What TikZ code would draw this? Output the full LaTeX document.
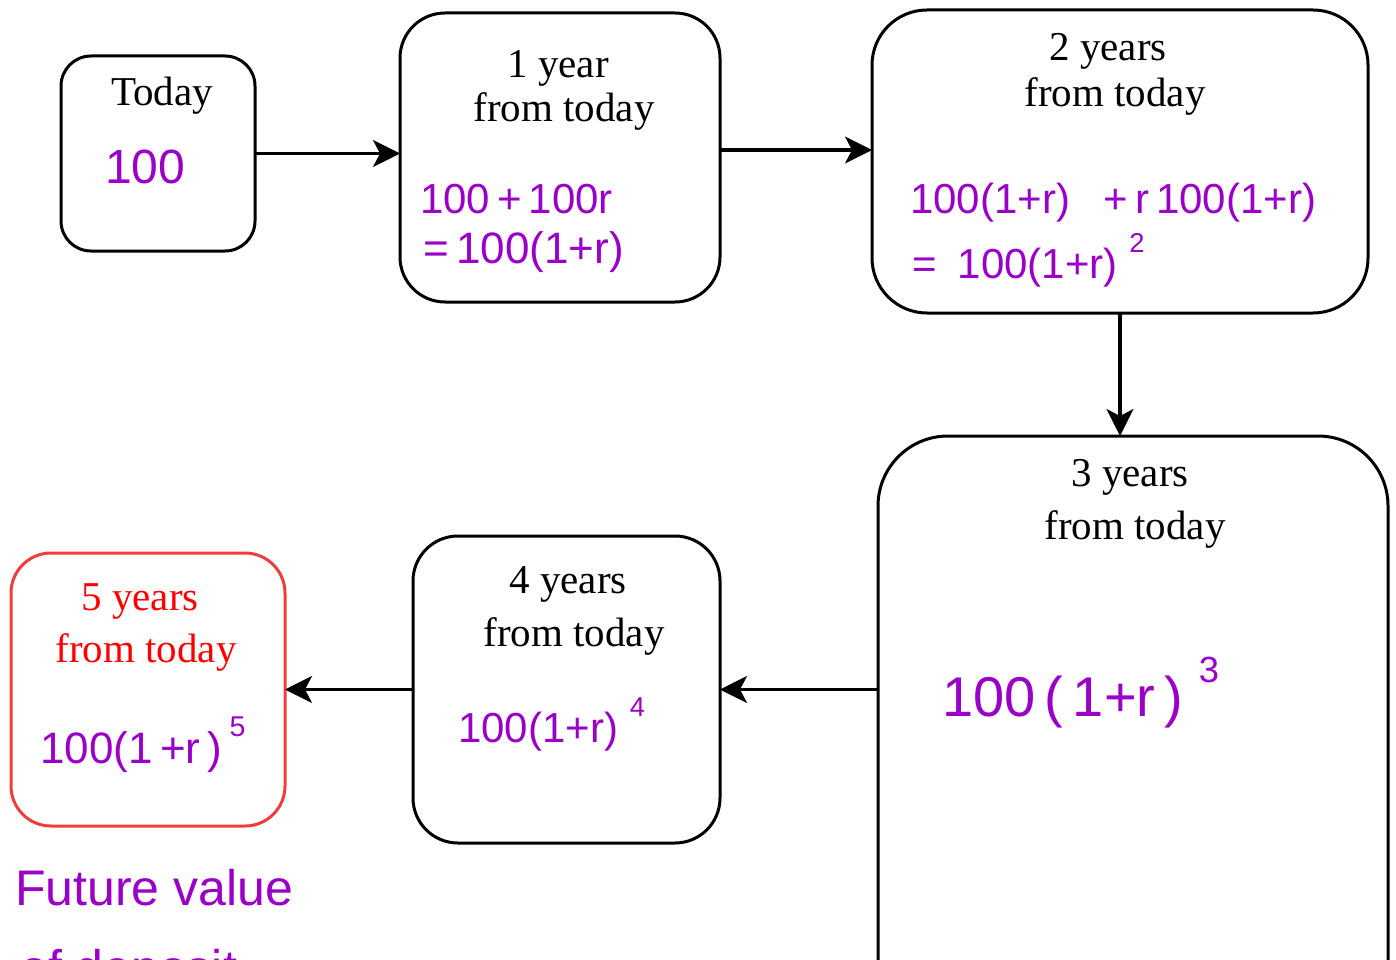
\documentclass[tikz,border=0pt]{standalone}
\usepackage{fontspec}
\setmainfont{Liberation Serif}
\newfontfamily\hand{Liberation Sans}
\usetikzlibrary{arrows.meta}
\definecolor{ink}{RGB}{155,0,200}
\definecolor{redline}{RGB}{240,60,60}
\definecolor{redtext}{RGB}{255,0,0}
\newcommand\ex[1]{\raisebox{0.6em}{\scalebox{0.65}{#1}}}
\tikzset{
  box/.style={draw=black, line width=3pt, rounded corners=#1, inner sep=0pt, outer sep=0pt},
  lbl/.style={anchor=base, inner sep=0pt, font=\fontsize{41}{46}\selectfont},
  hw/.style={anchor=base west, text=ink, inner sep=0pt, font=\hand\fontsize{#1}{#1}\selectfont},
  arr/.style={line width=3.2pt, -{Stealth[length=27pt,width=27pt,inset=7pt]}},
}
\begin{document}
\begin{tikzpicture}[x=1pt,y=-1pt]
\useasboundingbox (0,0) rectangle (1396,960);
\fill[white] (0,0) rectangle (1396,960);
\clip (0,0) rectangle (1396,960);

% boxes
\node[box=30pt, minimum width=194pt, minimum height=195pt] (today) at (158,153.5) {};
\node[box=45pt, minimum width=320pt, minimum height=289pt] (y1) at (560,157.5) {};
\node[box=55pt, minimum width=496pt, minimum height=303pt] (y2) at (1120,161.5) {};
\node[box=70pt, minimum width=510pt, minimum height=594pt] (y3) at (1133,733) {};
\node[box=45pt, minimum width=307pt, minimum height=307pt] (y4) at (566.5,689.5) {};
\node[box=40pt, draw=redline, minimum width=274pt, minimum height=273pt] (y5) at (148,689.5) {};

% printed labels
\node[lbl] (l0) at (162,106) {Today};
\node[lbl] (l1a) at (558,78) {1 year};
\node[lbl] (l1b) at (564,122) {from today};
\node[lbl] (l2a) at (1108,61) {2 years};
\node[lbl] (l2b) at (1115,107) {from today};
\node[lbl] (l3a) at (1130,486) {3 years};
\node[lbl] (l3b) at (1135,539) {from today};
\node[lbl] (l4a) at (568,593) {4 years};
\node[lbl] (l4b) at (574,646) {from today};
\node[lbl, text=redtext] (l5a) at (140,610) {5 years};
\node[lbl, text=redtext] (l5b) at (146,662) {from today};

% handwritten
\node[hw=48] (t0) at (105,183) {100};
\node[hw=42] (t1a) at (420,213) {100\,+\,100r};
\node[hw=44] (t1b) at (423,263) {=\,100(1+r)};
\node[hw=42] (t2a) at (910,213) {100(1+r)\hspace{0.8em}+\,r\,100(1+r)};
\node[hw=42] (t2b) at (912,278) {=\enspace 100(1+r)\;\ex{2}};
\node[hw=56] (t3) at (942,716) {100\,(\,1+r\,)\;\ex{3}};
\node[hw=42] (t4) at (458,742) {100(1+r)\;\ex{4}};
\node[hw=44] (t5) at (40,763) {100(1\,+r\,)\,\ex{5}};
\node[hw=50] (fv) at (15,905) {Future value};
\node[hw=50] (fv2) at (20,985) {of deposit};

% connectors
\draw[arr] (today.east) -- (today.east -| y1.west);
\draw[arr] ([yshift=7.5pt]y1.east) -- ([yshift=7.5pt]y1.east -| y2.west);
\draw[arr] (y2.south) -- (y2.south |- y3.north);
\draw[arr] (y3.west |- y4.east) -- (y4.east);
\draw[arr] (y4.west) -- (y5.east);
\end{tikzpicture}
\end{document}
